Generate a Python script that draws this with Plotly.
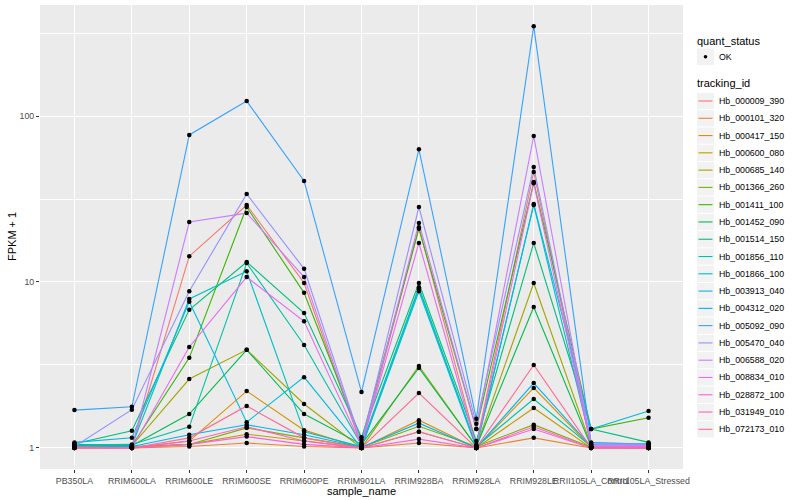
import plotly.graph_objects as go

samples = ["PB350LA", "RRIM600LA", "RRIM600LE", "RRIM600SE", "RRIM600PE", "RRIM901LA",
           "RRIM928BA", "RRIM928LA", "RRIM928LE", "RRII105LA_Control", "RRII105LA_Stressed"]

tracking_ids = ["Hb_000009_390", "Hb_000101_320", "Hb_000417_150", "Hb_000600_080", "Hb_000685_140",
                "Hb_001366_260", "Hb_001411_100", "Hb_001452_090", "Hb_001514_150", "Hb_001856_110",
                "Hb_001866_100", "Hb_003913_040", "Hb_004312_020", "Hb_005092_090", "Hb_005470_040",
                "Hb_006588_020", "Hb_008834_010", "Hb_028872_100", "Hb_031949_010", "Hb_072173_010"]

colors = ["#F8766D", "#EA8331", "#D89000", "#C09B00", "#A3A500", "#7CAE00", "#39B600", "#00BB4E",
          "#00BF7D", "#00C1A3", "#00BFC4", "#00BAE0", "#00B0F6", "#35A2FF", "#9590FF", "#C77CFF",
          "#E76BF3", "#FA62DB", "#FF62BC", "#FF6C91"]

# FPKM + 1 per gene, across samples (same order as `samples`)
fpkm_plus1 = [
    [1.02, 1.01, 14.3, 29.1, 9.86, 1.02, 21.4, 1.05, 46.0, 1.02, 1.01],
    [1.00, 1.00, 1.02, 1.07, 1.02, 1.00, 1.07, 1.00, 1.15, 1.00, 1.00],
    [1.02, 1.00, 1.10, 2.20, 1.28, 1.00, 1.47, 1.00, 2.30, 1.01, 1.00],
    [1.01, 1.00, 1.05, 1.21, 1.10, 1.00, 1.25, 1.00, 1.74, 1.00, 1.00],
    [1.05, 1.03, 2.60, 3.90, 1.84, 1.00, 3.12, 1.02, 9.86, 1.03, 1.02],
    [1.03, 1.02, 1.05, 1.32, 1.15, 1.01, 1.35, 1.02, 1.38, 1.01, 1.00],
    [1.04, 1.03, 3.49, 28.3, 8.60, 1.12, 20.9, 1.30, 40.0, 1.30, 1.52],
    [1.05, 1.03, 1.60, 3.90, 1.60, 1.05, 3.03, 1.02, 7.07, 1.02, 1.01],
    [1.06, 1.27, 6.80, 13.2, 6.50, 1.16, 9.86, 1.10, 17.2, 1.30, 1.08],
    [1.04, 1.05, 1.34, 13.0, 4.17, 1.04, 9.30, 1.02, 1.97, 1.02, 1.02],
    [1.03, 1.03, 7.90, 11.6, 1.25, 1.02, 9.10, 1.02, 29.1, 1.05, 1.06],
    [1.08, 1.15, 7.60, 1.43, 2.67, 1.00, 8.80, 1.00, 29.5, 1.30, 1.67],
    [1.03, 1.02, 1.20, 1.38, 1.20, 1.01, 1.41, 1.00, 2.46, 1.02, 1.03],
    [1.69, 1.77, 76.9, 123.0, 40.6, 2.17, 63.0, 1.50, 348.0, 1.08, 1.05],
    [1.02, 1.70, 8.80, 33.9, 12.0, 1.07, 28.3, 1.40, 49.3, 1.06, 1.05],
    [1.01, 1.00, 23.0, 26.0, 10.7, 1.04, 22.7, 1.30, 75.8, 1.04, 1.04],
    [1.01, 1.00, 4.06, 10.7, 5.80, 1.03, 17.2, 1.02, 39.4, 1.02, 1.02],
    [1.00, 1.00, 1.05, 1.17, 1.05, 1.00, 1.13, 1.00, 1.30, 1.00, 1.00],
    [1.00, 1.00, 1.10, 1.34, 1.10, 1.00, 1.25, 1.00, 1.34, 1.00, 1.00],
    [1.00, 1.00, 1.15, 1.79, 1.15, 1.00, 2.14, 1.00, 3.16, 1.00, 1.00],
]

FONT = "Liberation Sans"
W, H = 800, 500
L, R, T, B = 40, 683, 5, 469

def xp(px):
    return (px - L) / (R - L)

def yp(py):
    return (B - py) / (B - T)

fig = go.Figure()

for tid, col, vals in zip(tracking_ids, colors, fpkm_plus1):
    fig.add_trace(go.Scatter(x=samples, y=vals, mode="lines", name=tid,
                             line=dict(color=col, width=1.1), showlegend=False))

all_x = [s for _ in fpkm_plus1 for s in samples]
all_y = [v for vals in fpkm_plus1 for v in vals]
fig.add_trace(go.Scatter(x=all_x, y=all_y, mode="markers", name="OK",
                         marker=dict(color="black", size=4.5), showlegend=False))

shapes = []
annotations = []

# manual ggplot-style legend
annotations.append(dict(text="quant_status", xref="paper", yref="paper", x=xp(695), y=yp(41),
                        xanchor="left", yanchor="middle", showarrow=False,
                        font=dict(family=FONT, size=11, color="black")))
shapes.append(dict(type="rect", xref="paper", yref="paper", x0=xp(697), x1=xp(714),
                   y0=yp(48.5), y1=yp(65), fillcolor="#F2F2F2", line=dict(width=0), layer="below"))
shapes.append(dict(type="circle", xref="paper", yref="paper", x0=xp(703.7), x1=xp(707.3),
                   y0=yp(54.9), y1=yp(58.5), fillcolor="black", line=dict(width=0)))
annotations.append(dict(text="OK", xref="paper", yref="paper", x=xp(717), y=yp(57),
                        xanchor="left", yanchor="middle", showarrow=False,
                        font=dict(family=FONT, size=8.8, color="black")))
annotations.append(dict(text="tracking_id", xref="paper", yref="paper", x=xp(695), y=yp(83),
                        xanchor="left", yanchor="middle", showarrow=False,
                        font=dict(family=FONT, size=11, color="black")))
for i, (tid, col) in enumerate(zip(tracking_ids, colors)):
    cy = 101 + 17.28 * i
    shapes.append(dict(type="rect", xref="paper", yref="paper", x0=xp(697), x1=xp(714),
                       y0=yp(cy - 8.1), y1=yp(cy + 8.1), fillcolor="#F2F2F2", line=dict(width=0)))
    shapes.append(dict(type="line", xref="paper", yref="paper", x0=xp(698.5), x1=xp(712.5),
                       y0=yp(cy), y1=yp(cy), line=dict(color=col, width=1.1)))
    annotations.append(dict(text=tid, xref="paper", yref="paper", x=xp(717), y=yp(cy),
                            xanchor="left", yanchor="middle", showarrow=False,
                            font=dict(family=FONT, size=8.8, color="black")))

# axis titles
annotations.append(dict(text="sample_name", xref="paper", yref="paper", x=0.5, y=yp(490.5),
                        xanchor="center", yanchor="middle", showarrow=False,
                        font=dict(family=FONT, size=11, color="black")))
annotations.append(dict(text="FPKM + 1", xref="paper", yref="paper", x=xp(12), y=0.5,
                        xanchor="center", yanchor="middle", showarrow=False, textangle=-90,
                        font=dict(family=FONT, size=11, color="black")))

fig.update_layout(
    width=W, height=H,
    margin=dict(l=L, r=W - R, t=T, b=H - B, pad=0),
    paper_bgcolor="white", plot_bgcolor="#EBEBEB",
    font=dict(family=FONT, size=8.8, color="#4D4D4D"),
    showlegend=False,
    shapes=shapes, annotations=annotations,
    xaxis=dict(type="category", categoryorder="array", categoryarray=samples,
               tickmode="array", tickvals=samples, ticktext=samples,
               range=[-0.6, len(samples) - 0.4], tickangle=0,
               showgrid=True, gridcolor="white", gridwidth=1.1, zeroline=False,
               ticks="outside", ticklen=3, tickcolor="#333333", tickwidth=1,
               tickfont=dict(family=FONT, size=8.8, color="#4D4D4D"),
               showline=False, automargin=False),
    yaxis=dict(type="log", range=[-0.127, 2.669],
               tickmode="array", tickvals=[1, 10, 100], ticktext=["1", "10", "100"],
               showgrid=True, gridcolor="white", gridwidth=1.1, zeroline=False,
               ticks="outside", ticklen=3, tickcolor="#333333", tickwidth=1,
               tickfont=dict(family=FONT, size=8.8, color="#4D4D4D"),
               minor=dict(tickmode="array", tickvals=[10 ** 0.5, 10 ** 1.5, 10 ** 2.5],
                          showgrid=True, gridcolor="white", gridwidth=0.55, ticks=""),
               showline=False, automargin=False),
)

fig.write_html("out.html", config={"displayModeBar": False},
               post_script="document.body.style.margin='0';")
